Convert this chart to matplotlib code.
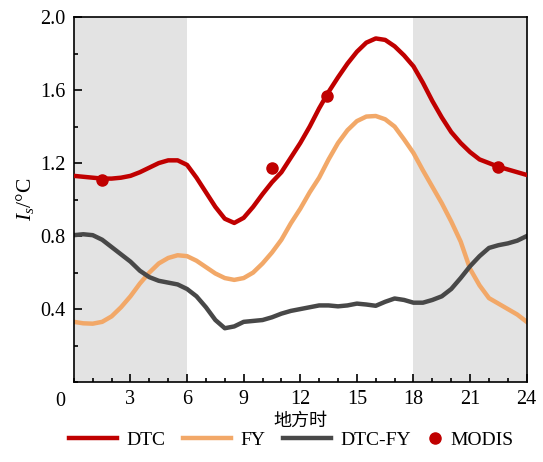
import numpy as np
import matplotlib
matplotlib.use('Agg')
import matplotlib.pyplot as plt
from matplotlib.ticker import MultipleLocator
from matplotlib.legend_handler import HandlerLine2D
import matplotlib.transforms as mtransforms

plt.rcParams['font.family'] = ['Liberation Serif', 'Noto Sans CJK SC']
plt.rcParams['mathtext.fontset'] = 'custom'
plt.rcParams['mathtext.rm'] = 'Liberation Serif'
plt.rcParams['mathtext.it'] = 'Liberation Serif:italic'

# Local time (hours), half-hour steps
hours = np.arange(0, 24.5, 0.5)

dtc = [1.13, 1.125, 1.12, 1.115, 1.115, 1.12, 1.13, 1.15, 1.175, 1.20,
       1.215, 1.215, 1.19, 1.12, 1.04, 0.96, 0.895, 0.872, 0.90, 0.96,
       1.03, 1.095, 1.15, 1.23, 1.31, 1.40, 1.50, 1.59, 1.67, 1.745,
       1.81, 1.86, 1.883, 1.875, 1.84, 1.79, 1.73, 1.64, 1.54, 1.45,
       1.37, 1.31, 1.26, 1.22, 1.20, 1.18, 1.165, 1.15, 1.135]

fy = [0.33, 0.322, 0.32, 0.33, 0.36, 0.41, 0.47, 0.54, 0.60, 0.65,
      0.68, 0.695, 0.69, 0.665, 0.63, 0.595, 0.57, 0.56, 0.57, 0.60,
      0.65, 0.71, 0.78, 0.87, 0.95, 1.04, 1.12, 1.22, 1.31, 1.38,
      1.43, 1.455, 1.458, 1.44, 1.40, 1.33, 1.255, 1.16, 1.07, 0.98,
      0.88, 0.77, 0.62, 0.53, 0.46, 0.43, 0.40, 0.37, 0.33]

diff = [0.805, 0.81, 0.805, 0.78, 0.74, 0.70, 0.66, 0.61, 0.575, 0.555,
        0.545, 0.535, 0.51, 0.47, 0.41, 0.34, 0.295, 0.305, 0.33, 0.335,
        0.34, 0.355, 0.375, 0.39, 0.40, 0.41, 0.42, 0.42, 0.415, 0.42,
        0.43, 0.425, 0.418, 0.44, 0.458, 0.45, 0.435, 0.435, 0.45, 0.47,
        0.51, 0.57, 0.635, 0.69, 0.735, 0.75, 0.76, 0.775, 0.80]

modis_t = [1.5, 10.5, 13.4, 22.5]
modis_v = [1.11, 1.175, 1.57, 1.18]

night = [(0, 6), (18, 24)]


class MarkerHandler(HandlerLine2D):
    # narrow handle box so the dot sits next to its label
    def legend_artist(self, legend, orig_handle, fontsize, handlebox):
        handlebox.width = 0.7 * fontsize
        return super().legend_artist(legend, orig_handle, fontsize, handlebox)


fig = plt.figure(figsize=(5.43, 4.62), dpi=100)
ax = fig.add_axes([0.136, 0.173, 0.834, 0.790])

for a, b in night:
    ax.axvspan(a, b, color='#e3e3e3', lw=0, zorder=0)

ax.plot(hours, dtc, color='#c00000', lw=3.2, label='DTC', zorder=3, solid_joinstyle='round')
ax.plot(hours, fy, color='#f2a868', lw=3.2, label='FY', zorder=2, solid_joinstyle='round')
ax.plot(hours, diff, color='#484848', lw=3.2, label='DTC-FY', zorder=2, solid_joinstyle='round')
pts, = ax.plot(modis_t, modis_v, 'o', color='#c00000', ms=8, label='MODIS', zorder=4)

ax.set_xlim(0, 24)
ax.set_ylim(0, 2.0)
ax.xaxis.set_minor_locator(MultipleLocator(1))
ax.yaxis.set_minor_locator(MultipleLocator(0.2))
ax.set_xticks(np.arange(3, 25, 3))
ax.set_yticks([0.4, 0.8, 1.2, 1.6, 2.0])
ax.tick_params(which='both', direction='in', top=False, right=False, labelsize=14.5, width=1.2)
ax.tick_params(which='major', length=6, pad=6)
ax.tick_params(which='minor', length=3)
for s in ax.spines.values():
    s.set_linewidth(1.2)

# shared origin label
trans = mtransforms.blended_transform_factory(ax.transData, ax.transAxes)
ax.text(-0.7, -0.027, '0', transform=trans, ha='center', va='top', fontsize=14.5)

ax.set_xlabel('地方时', fontsize=13, labelpad=2, family=['Noto Sans CJK SC'])
ax.set_ylabel('$I_s$/°C', fontsize=15.5, labelpad=3)

ax.legend(loc='upper center', bbox_to_anchor=(0.48, -0.125), ncol=4, frameon=False,
          fontsize=14, handlelength=2.5, columnspacing=0.9, handletextpad=0.45,
          borderaxespad=0, borderpad=0.2, handler_map={pts: MarkerHandler(numpoints=1)})

fig.savefig('out.png', dpi=100)
